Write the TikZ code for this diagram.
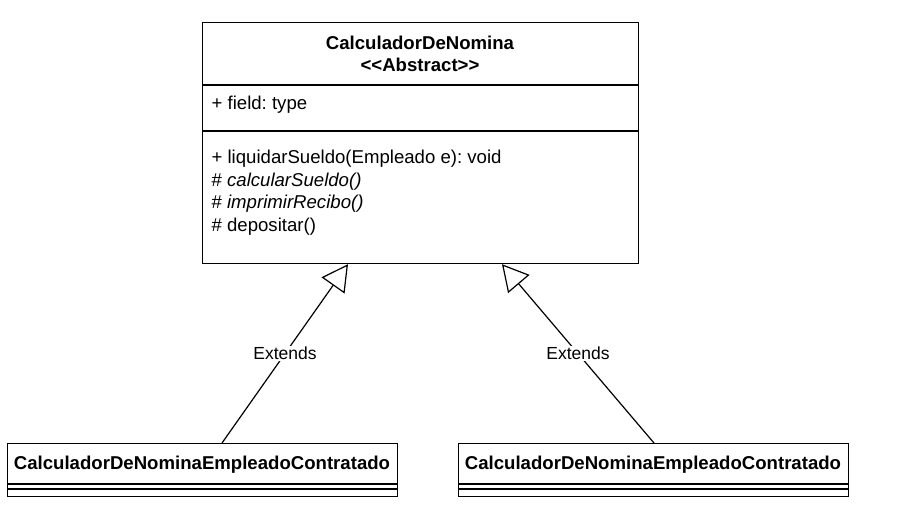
\documentclass[tikz,border=0pt]{standalone}
\usepackage{fontspec}
\setmainfont{Liberation Sans}
\usetikzlibrary{arrows.meta}
\begin{document}
\frenchspacing
\begin{tikzpicture}[x=1pt,y=-1pt,line width=1.2pt,
  box/.style={draw=black,fill=white,inner sep=0pt,anchor=north west},
  txt/.style={inner sep=0pt,font=\fontsize{18.6}{22.5}\selectfont\frenchspacing},
  ext/.style={-{Triangle[open,length=26pt,width=28pt,line width=1.2pt]}},
  lbl/.style={fill=white,inner sep=1pt,font=\fontsize{17.5}{21}\selectfont}]
\useasboundingbox[fill=white] (0,0) rectangle (898,507);
% top class
\node[box,minimum width=436pt,minimum height=241pt] (top) at (202,22) {};
\draw (top.west |- 0,85) -- (top.east |- 0,85);
\draw (top.west |- 0,131) -- (top.east |- 0,131);
\node[txt,font=\fontsize{18.6}{22}\selectfont\bfseries,align=center] (title) at (420,54) {CalculadorDeNomina\\<{}<Abstract>{}>};
\node[txt,anchor=west] (fld) at (211,105) {+ field: type};
\node[txt,anchor=north west,align=left] (meth) at (211,149.5) {+ liquidarSueldo(Empleado e): void\\\# \textit{calcularSueldo()}\\\# \textit{imprimirRecibo()}\\\# depositar()};
% bottom classes
\node[box,minimum width=390pt,minimum height=53pt] (bl) at (7,443) {};
\draw ([yshift=-41pt]bl.north west) -- ([yshift=-41pt]bl.north east);
\draw ([yshift=-46pt]bl.north west) -- ([yshift=-46pt]bl.north east);
\node[txt,font=\fontsize{18.6}{21}\selectfont\bfseries] (blt) at (202,465) {CalculadorDeNominaEmpleadoContratado};
\node[box,minimum width=390pt,minimum height=53pt] (br) at (458,443) {};
\draw ([yshift=-41pt]br.north west) -- ([yshift=-41pt]br.north east);
\draw ([yshift=-46pt]br.north west) -- ([yshift=-46pt]br.north east);
\node[txt,font=\fontsize{18.6}{21}\selectfont\bfseries] (brt) at (653,465) {CalculadorDeNominaEmpleadoContratado};
% generalizations
\draw[ext] ([xshift=215pt]bl.north west) -- node[lbl] (e1) {Extends} ([xshift=146pt]top.south west);
\draw[ext] ([xshift=196pt]br.north west) -- node[lbl] (e2) {Extends} ([xshift=300pt]top.south west);
\end{tikzpicture}
\end{document}
